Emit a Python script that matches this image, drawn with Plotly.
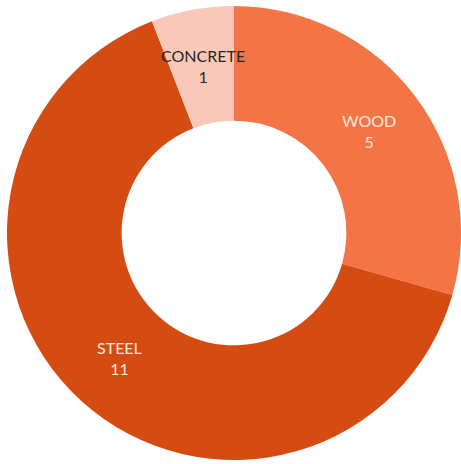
import math
import plotly.graph_objects as go

# Building material counts
materials = ["WOOD", "STEEL", "CONCRETE"]
counts = [5, 11, 1]
slice_colors = ["#F37546", "#D54C13", "#FAC8B8"]
label_colors = ["#FDE7DC", "#FDE7DC", "#262626"]

W, H = 461, 464
cx_px, cy_px, radius_px = 234.0, 233.0, 227.0
hole = 0.495

dom_x = [(cx_px - radius_px) / W, (cx_px + radius_px) / W]
dom_y = [1 - (cy_px + radius_px) / H, 1 - (cy_px - radius_px) / H]

fig = go.Figure(go.Pie(
    labels=materials,
    values=counts,
    sort=False,
    direction="clockwise",
    rotation=0,
    hole=hole,
    marker=dict(colors=slice_colors, line=dict(width=0)),
    textinfo="none",
    hoverinfo="label+value",
    domain=dict(x=dom_x, y=dom_y),
    showlegend=False,
))

# Category/value labels centred in each ring segment
total = sum(counts)
mid_r = radius_px * (1 + hole) / 2
cum = 0
for name, val, col in zip(materials, counts, label_colors):
    ang = 2 * math.pi * (cum + val / 2) / total
    cum += val
    x_px = cx_px + mid_r * math.sin(ang)
    y_px = cy_px - mid_r * math.cos(ang)
    fig.add_annotation(
        x=x_px / W, y=1 - y_px / H, xref="paper", yref="paper",
        xanchor="center", yanchor="middle",
        text=f"{name}<br>{val}", showarrow=False,
        font=dict(family="Lato, Open Sans, sans-serif", size=16, color=col),
        align="center",
    )

fig.update_layout(
    width=W, height=H,
    margin=dict(l=0, r=0, t=0, b=0),
    paper_bgcolor="white",
    plot_bgcolor="white",
)

fig.write_html("out.html")
